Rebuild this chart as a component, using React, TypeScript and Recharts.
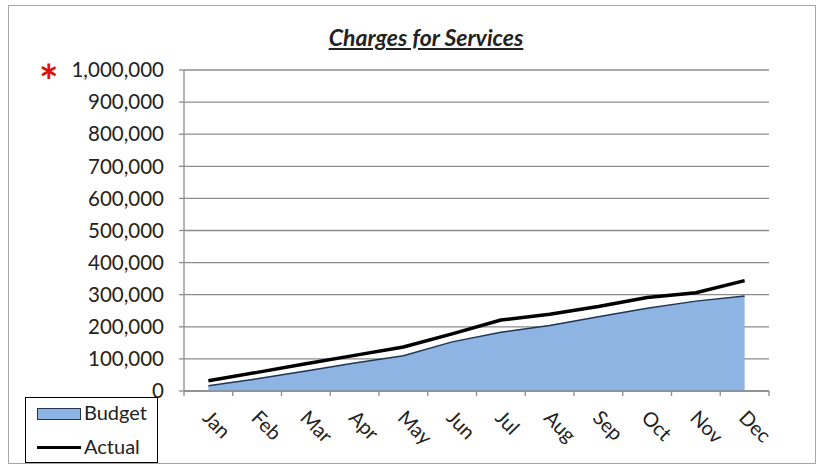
import React from "react";
import {
  ComposedChart,
  Area,
  Line,
  XAxis,
  YAxis,
  CartesianGrid,
} from "recharts";

// values
const MONTHS = ["Jan", "Feb", "Mar", "Apr", "May", "Jun", "Jul", "Aug", "Sep", "Oct", "Nov", "Dec"];
const BUDGET = [16000, 38000, 62000, 87000, 110000, 153000, 183000, 204000, 231000, 258000, 280000, 296000];
const ACTUAL = [32000, 58000, 85000, 111000, 137000, 178000, 221000, 239000, 263000, 291000, 306000, 344000];
const Y_TICKS = [0, 100000, 200000, 300000, 400000, 500000, 600000, 700000, 800000, 900000, 1000000];

const FONT = "Lato, 'Open Sans', sans-serif";
const W = 819;
const H = 466;
const PLOT_LEFT = 184;
const PLOT_RIGHT = 769;
const BAND = (PLOT_RIGHT - PLOT_LEFT) / MONTHS.length;
const AXIS_GRAY = "#8c8c8c";
const BUDGET_FILL = "#8db4e2";
const BUDGET_EDGE = "#1f3550";

const data = MONTHS.map((m, i) => ({ month: m, budget: BUDGET[i], actual: ACTUAL[i] }));

const fmt = (v: number) => (v === 0 ? "0" : v.toLocaleString("en-US"));

const MonthTick = (props: any) => {
  const { x, y, payload, index } = props;
  return (
    <g>
      <line x1={x - BAND / 2} x2={x - BAND / 2} y1={y} y2={y + 5} stroke={AXIS_GRAY} strokeWidth={1.3} />
      {index === MONTHS.length - 1 && (
        <line x1={x + BAND / 2} x2={x + BAND / 2} y1={y} y2={y + 5} stroke={AXIS_GRAY} strokeWidth={1.3} />
      )}
      <text
        transform={`translate(${x - 7},${y + 28}) rotate(45)`}
        textAnchor="start"
        fontSize={20}
        fontFamily={FONT}
        fill="#222"
      >
        {payload.value}
      </text>
    </g>
  );
};

export default function App() {
  return (
    <div style={{ position: "absolute", left: 0, top: 0, width: W, height: H, background: "#fff", fontFamily: FONT }}>
      <div
        style={{
          position: "absolute",
          left: 8,
          top: 5,
          width: 806,
          height: 457,
          border: "1.5px solid #a6a6a6",
        }}
      />
      <div
        style={{
          position: "absolute",
          left: 0,
          width: 852,
          top: 23,
          textAlign: "center",
          fontSize: 23,
          lineHeight: "28px",
          fontWeight: 700,
          fontStyle: "italic",
          textDecoration: "underline",
          color: "#222",
        }}
      >
        Charges for Services
      </div>
      <div
        style={{
          position: "absolute",
          left: 39,
          top: 58,
          fontSize: 46,
          fontWeight: 700,
          color: "#e01010",
          lineHeight: "46px",
        }}
      >
        *
      </div>
      <ComposedChart
        width={W}
        height={H}
        data={data}
        margin={{ top: 70, right: W - PLOT_RIGHT, bottom: 0, left: 0 }}
        style={{ position: "absolute", left: 0, top: 0 }}
      >
        <CartesianGrid vertical={false} stroke={AXIS_GRAY} strokeWidth={1.3} />
        <XAxis
          dataKey="month"
          scale="band"
          height={75}
          tickSize={0}
          tickMargin={0}
          interval={0}
          tick={<MonthTick />}
          axisLine={{ stroke: AXIS_GRAY, strokeWidth: 1.3 }}
        />
        <YAxis
          width={PLOT_LEFT}
          domain={[0, 1000000]}
          ticks={Y_TICKS}
          tickFormatter={fmt}
          tickSize={5}
          tickMargin={15}
          tick={{ fontSize: 20.5, fontFamily: FONT, fill: "#222" }}
          tickLine={{ stroke: AXIS_GRAY, strokeWidth: 1.3 }}
          axisLine={{ stroke: AXIS_GRAY, strokeWidth: 1.3 }}
        />
        <Area
          type="linear"
          dataKey="budget"
          fill={BUDGET_FILL}
          fillOpacity={1}
          stroke={BUDGET_EDGE}
          strokeWidth={1.5}
          dot={false}
          activeDot={false}
          isAnimationActive={false}
        />
        <Line
          type="linear"
          dataKey="actual"
          stroke="#000"
          strokeWidth={3.5}
          dot={false}
          activeDot={false}
          isAnimationActive={false}
        />
      </ComposedChart>
      <div
        style={{
          position: "absolute",
          left: 25,
          top: 397,
          width: 131,
          height: 64,
          border: "1.5px solid #000",
          background: "#fff",
          fontSize: 20,
          color: "#222",
        }}
      >
        <div style={{ position: "absolute", left: 11, top: 10, width: 42, height: 10, background: BUDGET_FILL, border: `1px solid ${BUDGET_EDGE}` }} />
        <div style={{ position: "absolute", left: 58, top: 2, lineHeight: "24px" }}>Budget</div>
        <div style={{ position: "absolute", left: 11, top: 48, width: 44, height: 3, background: "#000" }} />
        <div style={{ position: "absolute", left: 58, top: 36, lineHeight: "24px" }}>Actual</div>
      </div>
    </div>
  );
}
